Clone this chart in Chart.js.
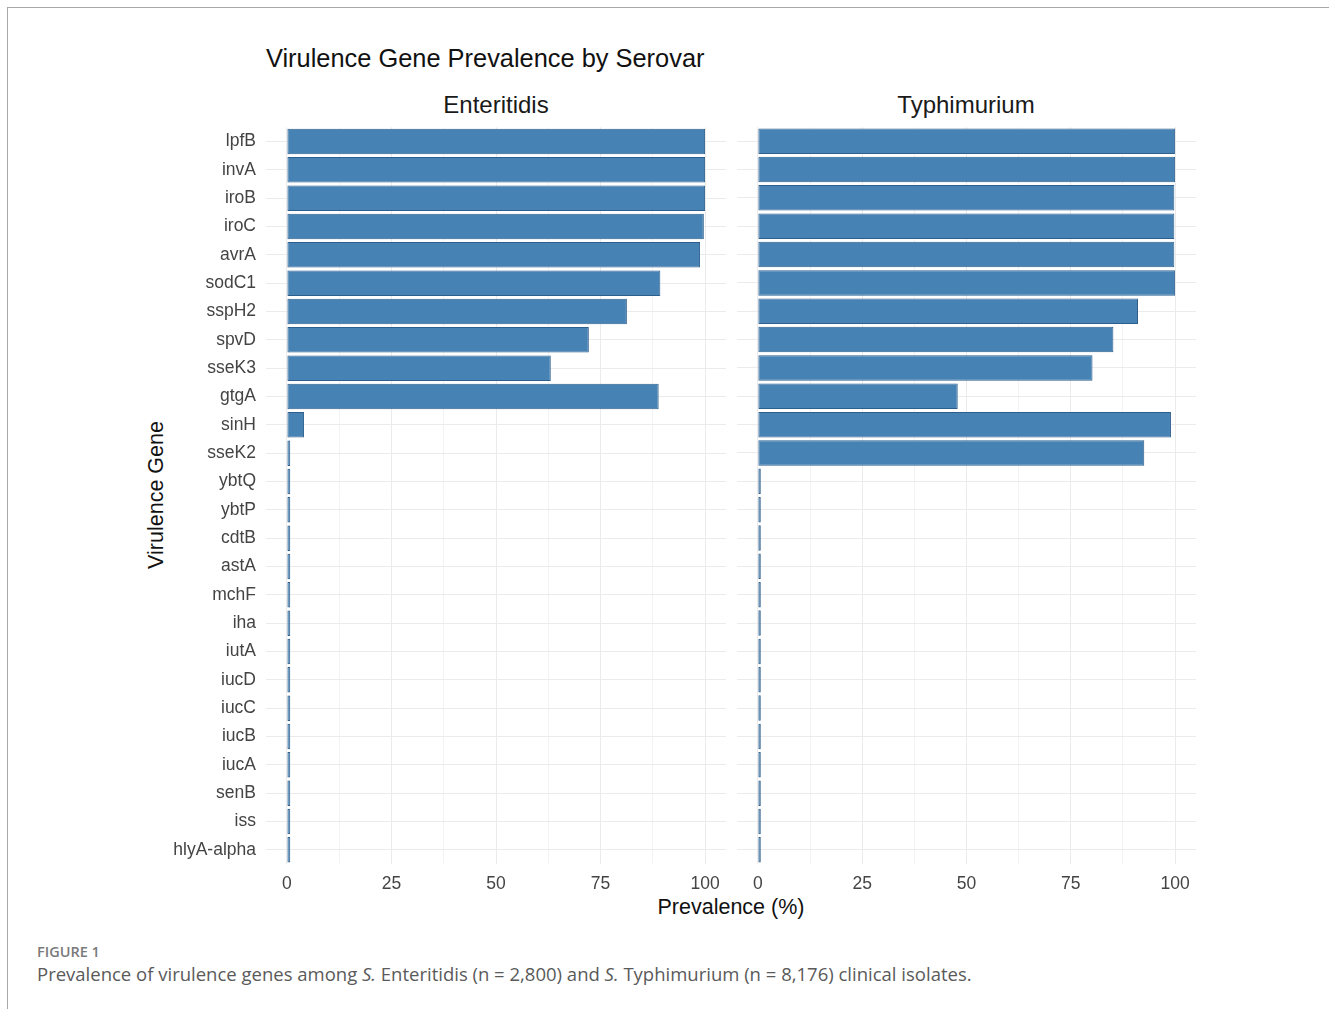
<!DOCTYPE html>
<html>
<head>
<meta charset="utf-8">
<title>Virulence Gene Prevalence by Serovar</title>
<script src="https://cdn.jsdelivr.net/npm/chart.js@4.4.1/dist/chart.umd.min.js"></script>
<style>
  html, body { margin: 0; padding: 0; background: #ffffff; }
  body { width: 1329px; height: 1009px; position: relative; overflow: hidden; font-family: "Liberation Sans", Arial, sans-serif; }
  .frame { position: absolute; left: 7px; top: 7px; width: 1330px; height: 1010px; border-top: 1px solid #a8a8a8; border-left: 1px solid #a8a8a8; }
  .txt { position: absolute; white-space: nowrap; line-height: 1; }
  canvas { position: absolute; }
  .cap { font-family: "Open Sans", "Noto Sans", sans-serif; }
</style>
</head>
<body>
<div class="frame"></div>

<div class="txt" style="left:266px; top:46px; font-size:25.4px; color:#111;">Virulence Gene Prevalence by Serovar</div>
<div class="txt" style="left:496px; top:93px; font-size:24px; color:#1a1a1a; transform:translateX(-50%);">Enteritidis</div>
<div class="txt" style="left:966px; top:93px; font-size:24px; color:#1a1a1a; transform:translateX(-50%);">Typhimurium</div>
<div class="txt" style="left:157px; top:495px; font-size:21.5px; color:#111; transform:translate(-50%,-50%) rotate(-90deg);">Virulence Gene</div>
<div class="txt" style="left:731px; top:897px; font-size:21.5px; color:#111; transform:translateX(-50%);">Prevalence (%)</div>

<div class="txt cap" style="left:37px; top:945px; font-size:14.5px; font-weight:600; color:#7a7a7a;">FIGURE 1</div>
<div class="txt cap" style="left:37px; top:965px; font-size:18.5px; color:#5a5a5a;">Prevalence of virulence genes among <i>S.</i> Enteritidis (n = 2,800) and <i>S.</i> Typhimurium (n = 8,176) clinical isolates.</div>

<!-- the left panel sits a little higher to make room for its gene labels above the plot area -->
<canvas id="left" width="590" height="787" style="left:150px; top:113px;"></canvas>
<canvas id="right" width="480" height="780" style="left:730px; top:120px;"></canvas>

<script>
// Genes, top to bottom
const genes = ['lpfB','invA','iroB','iroC','avrA','sodC1','sspH2','spvD','sseK3','gtgA','sinH','sseK2',
  'ybtQ','ybtP','cdtB','astA','mchF','iha','iutA','iucD','iucC','iucB','iucA','senB','iss','hlyA-alpha'];

// Prevalence (%) per serovar
const enteritidis = [100, 100, 100, 99.7, 98.8, 89.3, 81.3, 72.2, 63.1, 88.9, 4.1, 0.8,
  0.8, 0.8, 0.8, 0.8, 0.8, 0.8, 0.8, 0.8, 0.8, 0.8, 0.8, 0.8, 0.8, 0.8];
const typhimurium = [100, 100, 99.8, 99.8, 99.8, 100, 91.1, 85.2, 80.2, 47.9, 99.0, 92.6,
  0.7, 0.7, 0.7, 0.7, 0.7, 0.7, 0.7, 0.7, 0.7, 0.7, 0.7, 0.7, 0.7, 0.7];

// Major ticks are labelled, minor ticks only draw grid lines
const majorTicks = [0, 25, 50, 75, 100];
const minorTicks = [12.5, 37.5, 62.5, 87.5];

const FONT = '"Liberation Sans", Arial, sans-serif';
const BAR_FILL = '#4682b4';
const BAR_EDGE = '#2e5f8c';

function makePanel(canvasId, values, showGenes) {
  const allTicks = majorTicks.concat(minorTicks).sort((a, b) => a - b);
  return new Chart(document.getElementById(canvasId), {
    type: 'bar',
    data: {
      labels: genes,
      datasets: [{
        data: values,
        backgroundColor: BAR_FILL,
        borderColor: BAR_EDGE,
        borderWidth: 1,
        borderSkipped: false,
        categoryPercentage: 0.9,
        barPercentage: 1.0
      }]
    },
    options: {
      indexAxis: 'y',
      responsive: false,
      devicePixelRatio: 1,
      animation: false,
      layout: { padding: showGenes ? { top: 7, right: 14, left: 0, bottom: 0 } : { top: 7, right: 14, left: 7, bottom: 0 } },
      plugins: { legend: { display: false }, tooltip: { enabled: false }, title: { display: false } },
      scales: {
        x: {
          type: 'linear',
          min: -5,
          max: 105,
          afterBuildTicks: (scale) => { scale.ticks = allTicks.map(v => ({ value: v })); },
          afterFit: (scale) => { scale.height = 36; },
          border: { display: false },
          grid: {
            drawTicks: false,
            color: (ctx) => majorTicks.includes(ctx.tick.value) ? '#ebebeb' : '#f3f3f3',
            lineWidth: 1
          },
          ticks: {
            padding: 10,
            autoSkip: false,
            maxRotation: 0,
            color: '#444444',
            font: { family: FONT, size: 17.5 },
            callback: (v) => majorTicks.includes(v) ? String(v) : ''
          }
        },
        y: {
          display: showGenes ? true : 'auto',
          afterFit: (scale) => { scale.width = showGenes ? 116 : 0; },
          border: { display: false },
          grid: { offset: false, drawTicks: false, color: '#ebebeb', lineWidth: 1 },
          ticks: {
            display: showGenes,
            padding: 10,
            autoSkip: false,
            color: '#444444',
            // single-line labels: a small line height keeps the plot area from being padded
            font: { family: FONT, size: 17.5, lineHeight: 0.5 }
          }
        }
      }
    }
  });
}

makePanel('left', enteritidis, true);
makePanel('right', typhimurium, false);
</script>
</body>
</html>
